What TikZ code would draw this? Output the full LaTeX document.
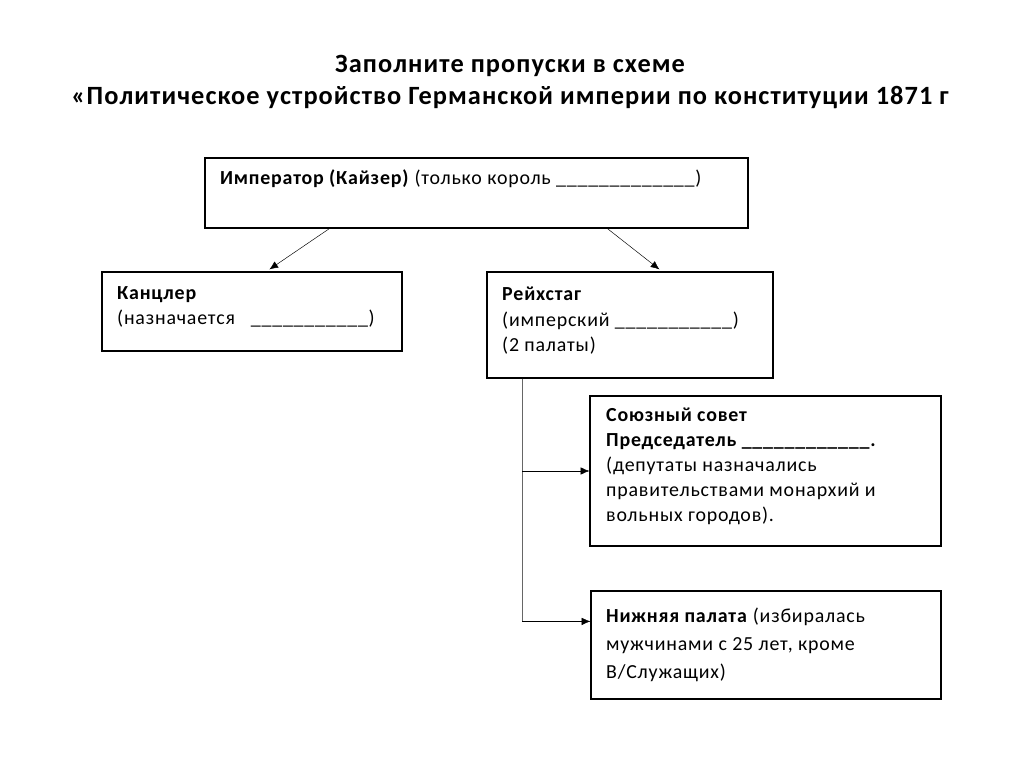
\documentclass[tikz,border=0pt]{standalone}
\usepackage{fontspec}
\setmainfont{Carlito}[LetterSpace=4]
\usetikzlibrary{arrows.meta,calc}

\begin{document}
\begin{tikzpicture}[x=0.03cm, y=-0.03cm, >={Latex[length=2.6mm,width=2.2mm]}]
\tikzset{box/.style={draw, line width=1pt, inner sep=0pt},
  txt/.style={anchor=base west, align=left, inner sep=0pt,
    font=\fontsize{17}{22}\selectfont}}
\useasboundingbox (0,0) rectangle (1024,767);

% title
\node[font=\fontsize{22.5}{28}\selectfont\bfseries, align=center] (title) at (510,82)
  {Заполните пропуски в схеме\\«Политическое устройство Германской империи по конституции 1871 г};

% boxes
\node[box, minimum width=16.29cm, minimum height=2.1cm] (emp) at (476.5,193) {};
\node[box, minimum width=9cm, minimum height=2.37cm] (kanz) at (252,311.5) {};
\node[box, minimum width=8.58cm, minimum height=3.18cm] (reich) at (630,325) {};
\node[box, minimum width=10.53cm, minimum height=4.5cm] (union) at (765.5,471) {};
\node[box, minimum width=10.5cm, minimum height=3.24cm] (low) at (766,645) {};

% texts (placed by the baseline of their last line)
\node[txt] (emptxt) at (220,185) {\textbf{Император (Кайзер)} (только король \_\_\_\_\_\_\_\_\_\_\_\_\_)};
\node[txt] (kanztxt) at (117,325) {\textbf{Канцлер}\\(назначается \ \ \_\_\_\_\_\_\_\_\_\_\_)};
\node[txt] (reichtxt) at (502,352) {\textbf{Рейхстаг}\\(имперский \_\_\_\_\_\_\_\_\_\_\_)\\(2 палаты)};
\node[txt, font=\fontsize{17}{21.5}\selectfont] (uniontxt) at (606,522) {\textbf{Союзный совет}\\\textbf{Председатель \_\_\_\_\_\_\_\_\_\_\_\_.}\\(депутаты назначались\\правительствами монархий и\\вольных городов).};
\node[txt, font=\fontsize{17}{23.5}\selectfont] (lowtxt) at (606,678) {\textbf{Нижняя палата} (избиралась\\мужчинами с 25 лет, кроме\\В/Служащих)};

% arrows
\draw[->] ($(emp.south west)+(125,0)$) -- ($(kanz.north west)+(168,-2)$);
\draw[->] ($(emp.south west)+(403,0)$) -- ($(reich.north west)+(173,-2)$);

% trunk
\coordinate (trunk) at ($(reich.south west)+(36,0)$);
\coordinate (lowin) at ($(low.north west)+(0,31)$);
\draw[black!60, line width=1pt] (trunk) -- (trunk |- lowin);
\draw[->] (trunk |- union.west) -- (union.west);
\draw[->] (trunk |- lowin) -- (lowin);

\end{tikzpicture}
\end{document}
